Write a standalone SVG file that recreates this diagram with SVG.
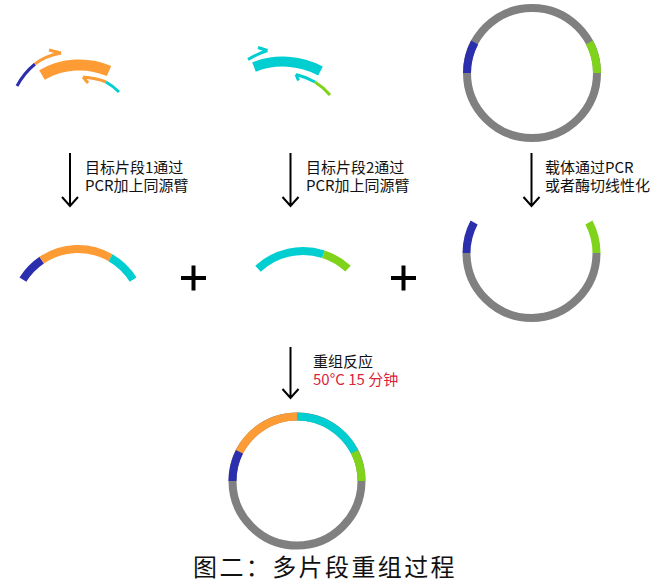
<svg xmlns="http://www.w3.org/2000/svg" width="669" height="587" viewBox="0 0 669 587">
  <style>
    .seg { fill: none; stroke-linecap: butt; }
    .thin { stroke-width: 3; }
    .blue { stroke: #2b2fae; }
    .orange { stroke: #fd9b35; }
    .cyan { stroke: #00ced1; }
    .green { stroke: #7fd31a; }
    .gray { stroke: #808080; }
    .ring { stroke-width: 8; }
    .arrow { fill: none; stroke: #000; stroke-width: 2; }
    .label { font-family: "Noto Sans CJK SC", "Noto Sans", sans-serif; font-size: 15px; fill: #111; }
    .red { fill: #d9233a; }
    .plus { stroke: #000; stroke-width: 4; }
  </style>

  <!-- Fragment 1 with its two primers -->
  <g id="fragment1-pcr">
    <path class="seg orange" stroke-width="11" d="M42,75 A75,75 0 0 1 109,71"/>
    <path class="seg thin blue" d="M17,86 Q24,73 35,64"/>
    <path class="seg thin orange" d="M35,64 Q45,56 61,53 M61,53 L49,50"/>
    <path class="seg thin orange" d="M83,77 Q96,78 106,82 M83,77 L88,83"/>
    <path class="seg thin cyan" d="M106,82 Q113,86 119,92"/>
  </g>

  <!-- Fragment 2 with its two primers -->
  <g id="fragment2-pcr">
    <path class="seg cyan" stroke-width="10" d="M254,67 A80,80 0 0 1 320.5,71"/>
    <path class="seg thin cyan" d="M248,59.5 Q257,54 267.5,50.5 M267.5,50.5 L258,47.5"/>
    <path class="seg thin cyan" d="M296,74.5 Q306,77 315,82 M296,74.5 L298.5,80.5"/>
    <path class="seg thin green" d="M315,82 Q323,87 330,95"/>
  </g>

  <!-- Vector plasmid -->
  <g id="vector">
    <circle class="seg ring gray" cx="532" cy="73" r="65"/>
    <path class="seg ring blue" d="M467,73 A65,65 0 0 1 474.6,42.5"/>
    <path class="seg ring green" d="M589.4,42.5 A65,65 0 0 1 597,73"/>
  </g>

  <!-- Fragment 1 with homology arms -->
  <g id="fragment1-arms">
    <path class="seg ring blue" d="M22.9,279.6 A65,65 0 0 1 41.7,260.1"/>
    <path class="seg ring orange" d="M41.7,260.1 A65,65 0 0 1 110.5,257.7"/>
    <path class="seg ring cyan" d="M110.5,257.7 A65,65 0 0 1 133.1,279.6"/>
  </g>

  <!-- Fragment 2 with homology arms -->
  <g id="fragment2-arms">
    <path class="seg ring cyan" d="M258,268.7 A66,66 0 0 1 323.4,254.2"/>
    <path class="seg ring green" d="M323.4,254.2 A66,66 0 0 1 348,268.7"/>
  </g>

  <!-- Linearized vector -->
  <g id="linear-vector">
    <path class="seg ring gray" d="M466.5,253 A65,65 0 0 0 596.5,253"/>
    <path class="seg ring blue" d="M466.5,253 A65,65 0 0 1 474.1,222.5"/>
    <path class="seg ring green" d="M588.9,222.5 A65,65 0 0 1 596.5,253"/>
  </g>

  <!-- Recombined plasmid -->
  <g id="product">
    <circle class="seg ring gray" cx="297" cy="481" r="64.5"/>
    <path class="seg ring blue" d="M232.5,481 A64.5,64.5 0 0 1 239.5,451.7"/>
    <path class="seg ring orange" d="M239.5,451.7 A64.5,64.5 0 0 1 297,416.5"/>
    <path class="seg ring cyan" d="M297,416.5 A64.5,64.5 0 0 1 354.5,451.7"/>
    <path class="seg ring green" d="M354.5,451.7 A64.5,64.5 0 0 1 361.5,481"/>
  </g>

  <!-- Plus signs -->
  <g id="plus1"><path class="plus" d="M181,278 H206 M193.5,265.5 V290.5"/></g>
  <g id="plus2"><path class="plus" d="M391,278 H416 M403.5,265.5 V290.5"/></g>

  <!-- Process arrows -->
  <g id="connectors">
    <path class="arrow" d="M70,153 V206 M62,197 L70,206 L78,197"/>
    <path class="arrow" d="M290.5,153 V206 M282.5,197 L290.5,206 L298.5,197"/>
    <path class="arrow" d="M531.5,153 V206 M523.5,197 L531.5,206 L539.5,197"/>
    <path class="arrow" d="M290.5,347 V398 M282.5,389 L290.5,398 L298.5,389"/>
  </g>

  <!-- Step labels -->
  <g id="label-fragment1">
    <text class="label" x="85" y="173">目标片段1通过</text>
    <text class="label" x="85" y="191">PCR加上同源臂</text>
  </g>
  <g id="label-fragment2">
    <text class="label" x="306" y="173">目标片段2通过</text>
    <text class="label" x="306" y="191">PCR加上同源臂</text>
  </g>
  <g id="label-vector">
    <text class="label" x="545" y="173">载体通过PCR</text>
    <text class="label" x="545" y="191">或者酶切线性化</text>
  </g>
  <g id="label-reaction">
    <text class="label" x="313" y="366.5">重组反应</text>
    <text class="label red" x="313" y="384.5">50°C 15 分钟</text>
  </g>

  <text id="title" x="193" y="576" font-family="Noto Sans CJK SC, sans-serif" font-size="24" letter-spacing="2.4" fill="#111">图二：多片段重组过程</text>
</svg>
